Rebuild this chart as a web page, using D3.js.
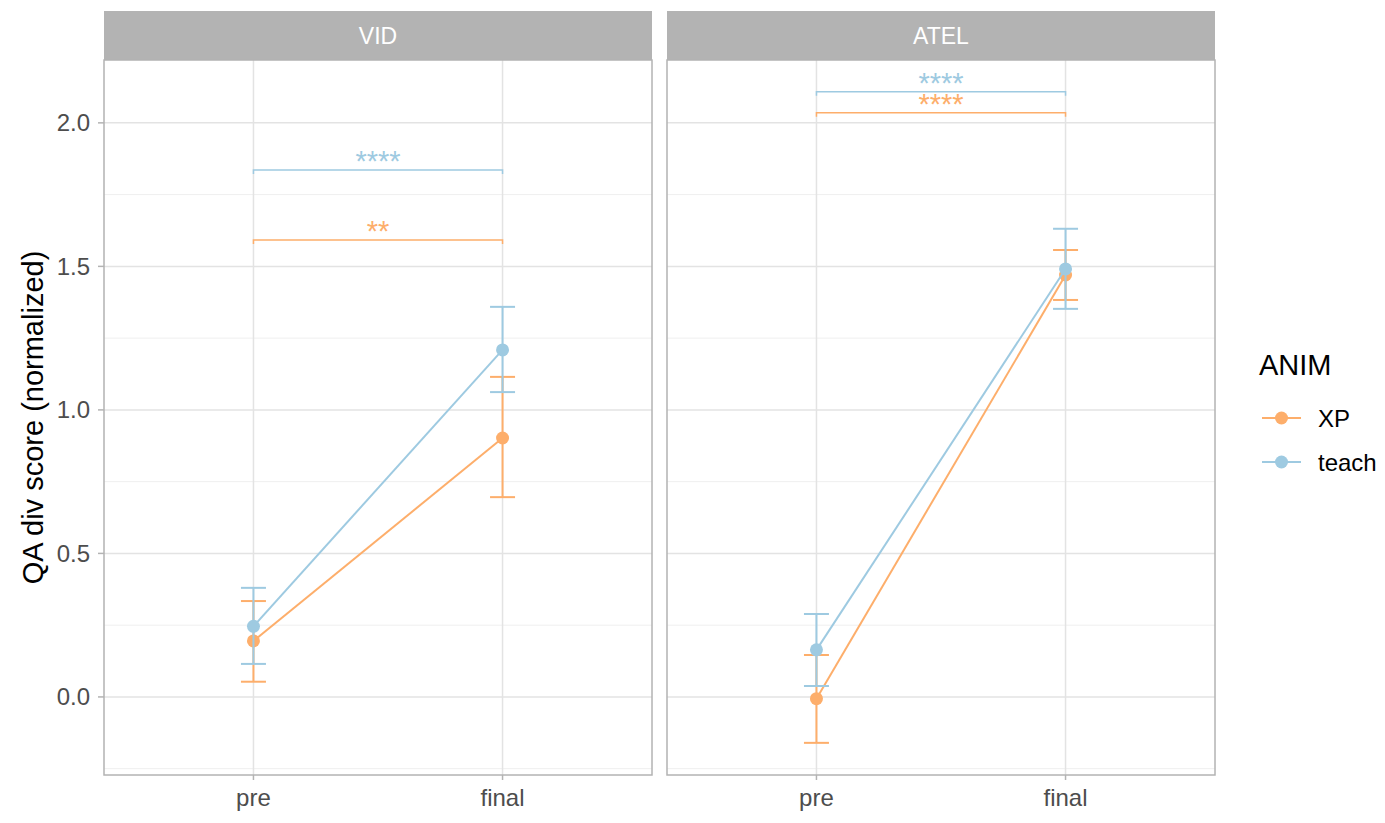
<!DOCTYPE html>
<html><head><meta charset="utf-8">
<script src="https://cdn.jsdelivr.net/npm/d3@7"></script>
<style>body{margin:0;background:#fff;font-family:"Liberation Sans",Arial,sans-serif;}</style>
</head><body>
<svg id="c" width="1385" height="823"></svg>
<script>
const panels = ["VID", "ATEL"];
const times = ["pre", "final"];
const groups = ["XP", "teach"];
const colors = ["#fdae6b", "#9ecae1"];
// means, lower, upper per panel/group/time
const meanVID_XP = [0.195, 0.902];
const lowVID_XP = [0.053, 0.696];
const highVID_XP = [0.334, 1.115];
const meanVID_teach = [0.246, 1.209];
const lowVID_teach = [0.115, 1.062];
const highVID_teach = [0.380, 1.359];
const meanATEL_XP = [-0.006, 1.470];
const lowATEL_XP = [-0.160, 1.383];
const highATEL_XP = [0.146, 1.557];
const meanATEL_teach = [0.164, 1.491];
const lowATEL_teach = [0.038, 1.352];
const highATEL_teach = [0.289, 1.631];
// significance brackets: y level and label
const sigVID = [{group:"XP", y:1.592, label:"**"}, {group:"teach", y:1.836, label:"****"}];
const sigATEL = [{group:"XP", y:2.035, label:"****"}, {group:"teach", y:2.108, label:"****"}];
const yTicks = [0, 0.5, 1.0, 1.5, 2.0];
const yMinor = [-0.25, 0.25, 0.75, 1.25, 1.75];

const data = {
  VID: {XP:{m:meanVID_XP,l:lowVID_XP,h:highVID_XP}, teach:{m:meanVID_teach,l:lowVID_teach,h:highVID_teach}},
  ATEL:{XP:{m:meanATEL_XP,l:lowATEL_XP,h:highATEL_XP}, teach:{m:meanATEL_teach,l:lowATEL_teach,h:highATEL_teach}}
};
const sig = {VID: sigVID, ATEL: sigATEL};

const svg = d3.select("#c");
const pTop = 60, pBottom = 775;
const y = d3.scaleLinear().domain([-0.272, 2.219]).range([pBottom, pTop]);
const panelX = [104, 667], pw = 548;
const col = d3.scaleOrdinal().domain(groups).range(colors);

panels.forEach((p, pi) => {
  const x0 = panelX[pi];
  const x = d3.scalePoint().domain(times).range([x0, x0 + pw]).padding(0.6);
  const g = svg.append("g");
  // strip
  g.append("rect").attr("x", x0).attr("y", 11).attr("width", pw).attr("height", pTop - 11).attr("fill", "#b3b3b3");
  g.append("text").attr("x", x0 + pw/2).attr("y", 44).attr("text-anchor","middle")
    .attr("fill","#ffffff").attr("font-size", 23).text(p);
  // grid
  g.selectAll(".mi").data(yMinor).join("line").attr("x1", x0).attr("x2", x0+pw)
    .attr("y1", d=>y(d)).attr("y2", d=>y(d)).attr("stroke","#efefef").attr("stroke-width",1);
  g.selectAll(".ma").data(yTicks).join("line").attr("x1", x0).attr("x2", x0+pw)
    .attr("y1", d=>y(d)).attr("y2", d=>y(d)).attr("stroke","#e3e3e3").attr("stroke-width",1.5);
  g.selectAll(".vx").data(times).join("line").attr("x1", d=>x(d)).attr("x2", d=>x(d))
    .attr("y1", pTop).attr("y2", pBottom).attr("stroke","#e3e3e3").attr("stroke-width",1.5);
  // x ticks
  g.selectAll(".xt").data(times).join("line").attr("x1", d=>x(d)).attr("x2", d=>x(d))
    .attr("y1", pBottom).attr("y2", pBottom+5).attr("stroke","#b3b3b3").attr("stroke-width",1.5);
  g.selectAll(".xl").data(times).join("text").attr("x", d=>x(d)).attr("y", 806).attr("text-anchor","middle")
    .attr("fill","#4d4d4d").attr("font-size",24).text(d=>d);
  // brackets
  sig[p].forEach(s => {
    const c = col(s.group);
    const yy = y(s.y);
    g.append("path").attr("d", `M${x("pre")},${yy+4}V${yy}H${x("final")}V${yy+4}`)
      .attr("fill","none").attr("stroke", c).attr("stroke-width",1.5);
    g.append("text").attr("x", (x("pre")+x("final"))/2).attr("y", yy+1).attr("text-anchor","middle")
      .attr("fill", c).attr("font-size",29).text(s.label);
  });
  // series
  groups.forEach(gr => {
    const d = data[p][gr];
    const c = col(gr);
    const pts = times.map((t,i)=>({t, m:d.m[i], l:d.l[i], h:d.h[i]}));
    pts.forEach(pt => {
      const cx = x(pt.t);
      g.append("line").attr("x1",cx).attr("x2",cx).attr("y1",y(pt.l)).attr("y2",y(pt.h)).attr("stroke",c).attr("stroke-width",2);
      [pt.l, pt.h].forEach(v => g.append("line").attr("x1",cx-12.5).attr("x2",cx+12.5).attr("y1",y(v)).attr("y2",y(v)).attr("stroke",c).attr("stroke-width",2));
    });
    g.append("path").datum(pts).attr("d", d3.line().x(q=>x(q.t)).y(q=>y(q.m)))
      .attr("fill","none").attr("stroke",c).attr("stroke-width",2);
    g.selectAll(null).data(pts).join("circle").attr("cx",q=>x(q.t)).attr("cy",q=>y(q.m)).attr("r",6.5).attr("fill",c);
  });
  // border
  g.append("rect").attr("x", x0).attr("y", pTop).attr("width", pw).attr("height", pBottom-pTop)
    .attr("fill","none").attr("stroke","#b3b3b3").attr("stroke-width",1.5);
});

// y axis
const ya = svg.append("g");
ya.selectAll("line").data(yTicks).join("line").attr("x1",98).attr("x2",104).attr("y1",d=>y(d)).attr("y2",d=>y(d)).attr("stroke","#b3b3b3").attr("stroke-width",1.5);
ya.selectAll("text").data(yTicks).join("text").attr("x",90).attr("y",d=>y(d)+8.5).attr("text-anchor","end")
  .attr("fill","#4d4d4d").attr("font-size",24).text(d=>d3.format(".1f")(d));
svg.append("text").attr("transform",`translate(43,${(pTop+pBottom)/2}) rotate(-90)`).attr("text-anchor","middle")
  .attr("font-size",29).attr("fill","#000").text("QA div score (normalized)");

// legend
const lg = svg.append("g");
lg.append("text").attr("x",1259).attr("y",375).attr("font-size",29).text("ANIM");
groups.forEach((gr,i)=>{
  const yy = 418 + i*44;
  lg.append("line").attr("x1",1262).attr("x2",1301).attr("y1",yy).attr("y2",yy).attr("stroke",col(gr)).attr("stroke-width",2);
  lg.append("circle").attr("cx",1281.5).attr("cy",yy).attr("r",6.5).attr("fill",col(gr));
  lg.append("text").attr("x",1318).attr("y",yy+8.5).attr("font-size",24).text(gr);
});
</script>
</body></html>
